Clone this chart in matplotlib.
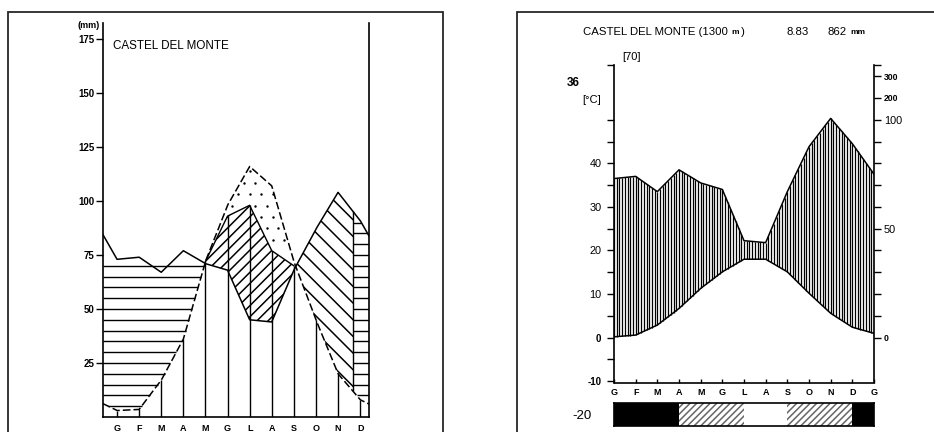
#!/usr/bin/env python3
# -*- coding: utf-8 -*-

"""
Castel del Monte: Thornthwaite water balance (left) and
Walter-Lieth climate diagram (right).
"""

import numpy as np
from matplotlib import pyplot as plt
from matplotlib.patches import Rectangle

plt.rcParams['font.family'] = ['Liberation Sans', 'DejaVu Sans']
plt.rcParams['hatch.linewidth'] = 1.1

# DATA ########################################################################

station = "CASTEL DEL MONTE"
months = ["G", "F", "M", "A", "M", "G", "L", "A", "S", "O", "N", "D"]

# water balance (mm) - left panel
precip   = [73, 74, 67, 77, 71, 68, 45, 44, 68, 87, 104, 91]
pot_evap = [3, 3.5, 17, 36, 72, 98, 116, 107, 72, 45, 20, 8]
act_evap = [3, 3.5, 17, 36, 72, 93, 98, 77, 70, 45, 20, 8]
recharge_end = 10.68      # soil full again (month units)
surplus_top = 70          # highest surplus line in spring (mm)
mm_ticks = [25, 50, 75, 100, 125, 150, 175]

# climate diagram - right panel (January repeated at the end)
wl_months = months + ["G"]
temp = [0.2, 0.6, 2.9, 6.7, 11.3, 15.1, 18.0, 18.0, 15.1, 10.2, 5.6, 2.4, 1.0]
rain = [73, 74, 67, 77, 71, 68, 44.5, 43.6, 67, 87.6, 106, 89, 75]
frost = [2, 2, 2, 1, 1, 1, 0, 0, 1, 1, 1, 2]   # 2 sure, 1 possible, 0 none
altitude = 1300
mean_temp = 8.83
annual_rain = 862
max_temp = 36
years = 70
temp_ticks = [-10, 0, 10, 20, 30, 40]
rain_ticks = [0, 50, 100, 200, 300]

# HELPERS #####################################################################

W, H = 934, 432


def box(x0, y0, x1, y1):
    """pixel box (origin top left) -> figure fraction rect"""
    return [x0 / W, 1 - y1 / H, (x1 - x0) / W, (y1 - y0) / H]


def ftext(x, y, s, **kw):
    kw.setdefault('va', 'center')
    fig.text(x / W, 1 - y / H, s, **kw)


def wrap(v):
    v = np.asarray(v, dtype=float)
    return np.concatenate([[v[-1]], v, [v[0]]])


def runs(mask):
    m = np.concatenate([[0], mask.astype(int), [0]])
    d = np.diff(m)
    return np.where(d == 1)[0], np.where(d == -1)[0] - 1


def rain_scale(mm):
    mm = np.asarray(mm, dtype=float)
    return np.where(mm <= 100, mm / 2., 50 + (mm - 100) / 20.)


fig = plt.figure(figsize=(9.34, 4.32), dpi=100)

# frames
for x0, x1 in [(8, 443), (517, 950)]:
    fig.add_artist(Rectangle((x0 / W, 1 - 450 / H), (x1 - x0) / W, 438 / H,
                             transform=fig.transFigure, fill=False,
                             lw=1.3, ec='0.15'))

# LEFT: WATER BALANCE #########################################################

ax = fig.add_axes(box(103, 23, 369, 417))
xmin, xmax = -0.633, 11.40
ax.set_xlim(xmin, xmax)
ax.set_ylim(0, 182.4)

xm = np.arange(12)
xe = np.arange(-1, 13)
xd = np.linspace(xmin, xmax, 2500)
p_d = np.interp(xd, xe, wrap(precip))
pe_d = np.interp(xd, xe, wrap(pot_evap))
ae_d = np.interp(xd, xe, wrap(act_evap))

# surplus: horizontal lines every 5 mm
for lev in np.arange(5, 100, 5):
    spring = (xd < 4.5) & (pe_d < lev) & (lev <= surplus_top)
    winter = (xd >= recharge_end) & (pe_d < lev) & (lev < p_d)
    for mask in (spring, winter):
        s, e = runs(mask)
        if len(s):
            ax.hlines([lev] * len(s), xd[s], xd[e], color='k', lw=1.0)

# soil moisture utilization
ax.fill_between(xd, p_d, ae_d, where=ae_d > p_d, interpolate=True,
                facecolor='none', edgecolor='k', hatch='///', lw=0)

# recharge
rech = (xd > 7.5) & (xd <= recharge_end) & (p_d > pe_d)
ax.fill_between(xd, pe_d, p_d, where=rech, interpolate=True,
                facecolor='none', edgecolor='k', hatch='\\\\', lw=0)
ax.vlines(recharge_end,
          np.interp(recharge_end, xe, wrap(pot_evap)),
          np.interp(recharge_end, xe, wrap(precip)), color='k', lw=1)

# deficit: dots
gx = np.arange(-0.5, 12, 0.52)
gy = np.arange(2.5, 180, 5.3)
GX, GY = np.meshgrid(gx, gy)
GX = GX + 0.26 * (np.arange(len(gy))[:, None] % 2)
pe_g = np.interp(GX, xe, wrap(pot_evap))
ae_g = np.interp(GX, xe, wrap(act_evap))
inside = (GY > ae_g + 2) & (GY < pe_g - 2)
ax.plot(GX[inside], GY[inside], 'k.', ms=1.5)

# actual evapotranspiration bars
ax.vlines(xm, 0, act_evap, color='k', lw=1)

# curves
ax.plot(xd, p_d, color='k', lw=1.1)
ax.plot(xd, pe_d, color='k', lw=1.1, ls=(0, (5, 2)))
ax.plot(xm[4:9], act_evap[4:9], color='k', lw=1.0)

for side in ['left', 'bottom', 'right']:
    ax.spines[side].set_linewidth(1.2)
ax.spines['top'].set_visible(False)
ax.set_yticks(mm_ticks)
ax.set_yticklabels([str(t) for t in mm_ticks], fontsize=7, fontweight='bold')
ax.tick_params(axis='y', length=5, width=1, pad=1, direction='out')
ax.set_xticks(xm)
ax.set_xticklabels(months, fontsize=6.5, fontweight='bold')
ax.tick_params(axis='x', length=0, pad=5)

ftext(100, 25, "(mm)", ha='right', fontsize=6.5, fontweight='bold')
ftext(113, 46, station, ha='left', fontsize=8.4)

# RIGHT: WALTER-LIETH DIAGRAM #################################################

ax2 = fig.add_axes(box(614, 65, 874, 382.5))
ax2.set_xlim(0, 12)
ylo, yhi = -10.28, 62.55
ax2.set_ylim(ylo, yhi)

xw = np.arange(13)
rain_t = rain_scale(rain)
xh = np.arange(0, 12.001, 1 / 8.)
th = np.interp(xh, xw, temp)
rh = np.interp(xh, xw, rain_t)
wet = rh > th
ax2.vlines(xh[wet], th[wet], rh[wet], color='k', lw=0.9)

ax2.plot(xw, temp, color='k', lw=1.1)
ax2.plot(xw, rain_t, color='k', lw=1.1)

for side in ['left', 'bottom', 'right']:
    ax2.spines[side].set_linewidth(1.2)
ax2.spines['top'].set_visible(False)

lt = list(np.arange(-10, 55, 5)) + [yhi]
ax2.set_yticks(lt)
ax2.set_yticklabels([str(int(t)) if t in temp_ticks else '' for t in lt])
ax2.tick_params(axis='y', length=5, width=1, pad=4, direction='out')
for lab, t in zip(ax2.get_yticklabels(), lt):
    if t in (0, -10):
        lab.set_fontsize(7)
        lab.set_fontweight('bold')
    else:
        lab.set_fontsize(7.8)

ax2.set_xticks(xw)
ax2.set_xticklabels(wl_months, fontsize=6.5, fontweight='bold')
ax2.tick_params(axis='x', length=3, width=1, direction='in', pad=4)

axr = ax2.twinx()
axr.set_ylim(ylo, yhi)
rt_mm = list(range(0, 101, 10)) + [200, 300]
rt = list(rain_scale(rt_mm)) + [yhi]
axr.set_yticks(rt)
axr.set_yticklabels([str(m) if m in rain_ticks else '' for m in rt_mm] + [''])
axr.tick_params(axis='y', length=5, width=1, pad=2, direction='out')
for lab, m in zip(axr.get_yticklabels(), rt_mm + [None]):
    if m in (0, 200, 300):
        lab.set_fontsize(6.2)
        lab.set_fontweight('bold')
    else:
        lab.set_fontsize(7.8)
for side in axr.spines:
    axr.spines[side].set_visible(False)

# frost bar
axb = fig.add_axes(box(614, 403, 874, 426))
axb.set_xlim(0, 12)
axb.set_ylim(0, 1)
for i, f in enumerate(frost):
    axb.bar(i, 1, width=1, align='edge',
            facecolor='k' if f == 2 else 'white',
            edgecolor='0.4', hatch='/////' if f == 1 else None, lw=0)
axb.set_xticks([])
axb.set_yticks([])
for side in axb.spines:
    axb.spines[side].set_linewidth(1.2)

# texts
ftext(583, 32, station + " (%d" % altitude, ha='left', fontsize=8.2)
ftext(731.5, 33, "m", ha='left', fontsize=6, fontweight='bold')
ftext(741, 32, ")", ha='left', fontsize=8.2)
ftext(786.5, 32, "%.2f" % mean_temp, ha='left', fontsize=8.2)
ftext(828, 32, "%d" % annual_rain, ha='left', fontsize=8.2)
ftext(850, 33, "mm", ha='left', fontsize=6, fontweight='bold')
ftext(622, 57, "[%d]" % years, ha='left', fontsize=8)
ftext(567, 83, "%d" % max_temp, ha='left', fontsize=8.5, fontweight='bold')
ftext(582, 100, "[°C]", ha='left', fontsize=8)
ftext(572, 416, "-20", ha='left', fontsize=9.5)

fig.savefig("out.png", dpi=100)
